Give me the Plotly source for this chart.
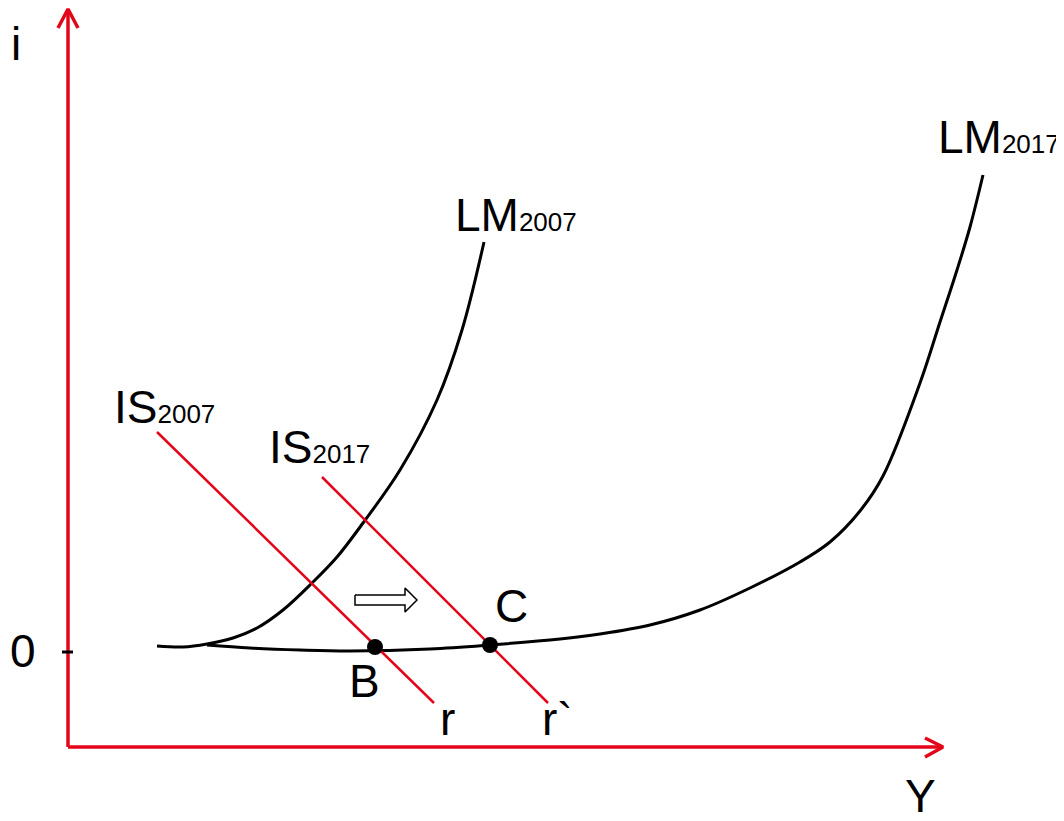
import plotly.graph_objects as go

# ---- data (diagram coordinates, picture units: x right, y down) ----
lm2007_x = [157, 183, 207, 233, 257, 283, 312, 337, 363, 400, 437, 462, 484]
lm2007_y = [646, 647, 644, 638, 628, 610, 583, 557, 523, 470, 400, 330, 242]

lm2017_x = [207, 250, 300, 350, 430, 490, 560, 600, 650, 700, 750, 800, 830, 860, 883, 920, 940, 957, 970, 983]
lm2017_y = [645, 648, 650, 651, 649, 645, 639, 634, 625, 610, 588, 562, 542, 511, 476, 383, 322, 270, 227, 175]

is2007_x = [157, 434]
is2007_y = [432, 703]
is2017_x = [322, 548]
is2017_y = [477, 703]

equil_x = [375, 490]
equil_y = [647, 645]

yaxis_x = [68, 68]
yaxis_y = [747, 9]
yhead_x = [58, 68, 78]
yhead_y = [28, 9, 28]
xaxis_x = [68, 943]
xaxis_y = [747, 747]
xhead_x = [925, 943, 925]
xhead_y = [738, 747, 757]

tick_x = [62, 73]
tick_y = [652, 652]

shift_x = [355, 405, 405, 417, 405, 405, 355, 355]
shift_y = [595, 595, 588, 600, 612, 605, 605, 595]

RED = "#e3061a"
BLACK = "#000000"
FONT = "Liberation Sans, Arial, sans-serif"

# page body has an 8px margin; the figure covers page pixels 8..1064 / 8..821
OFF = 8

fig = go.Figure()

def line(x, y, color, width):
    fig.add_trace(go.Scatter(x=x, y=y, mode="lines", line=dict(color=color, width=width),
                             hoverinfo="skip", showlegend=False))

# axes
line(yaxis_x, yaxis_y, RED, 3.5)
line(xaxis_x, xaxis_y, RED, 3.5)
line(yhead_x, yhead_y, RED, 3.5)
line(xhead_x, xhead_y, RED, 3.5)
line(tick_x, tick_y, BLACK, 3)

# LM curves
fig.add_trace(go.Scatter(x=lm2007_x, y=lm2007_y, mode="lines",
                         line=dict(color=BLACK, width=3, shape="spline", smoothing=1),
                         hoverinfo="skip", showlegend=False))
fig.add_trace(go.Scatter(x=lm2017_x, y=lm2017_y, mode="lines",
                         line=dict(color=BLACK, width=3, shape="spline", smoothing=1),
                         hoverinfo="skip", showlegend=False))

# IS lines
line(is2007_x, is2007_y, RED, 2.5)
line(is2017_x, is2017_y, RED, 2.5)

# shift arrow
fig.add_trace(go.Scatter(x=shift_x, y=shift_y, mode="lines", fill="toself", fillcolor="white",
                         line=dict(color=BLACK, width=1.5), hoverinfo="skip", showlegend=False))

# equilibrium points
fig.add_trace(go.Scatter(x=equil_x, y=equil_y, mode="markers",
                         marker=dict(color=BLACK, size=16), hoverinfo="skip", showlegend=False))

def label(text, x, y, anchor="left", size=46):
    fig.add_annotation(x=x, y=y, xref="x", yref="y", text=text, showarrow=False,
                       xanchor=anchor, yanchor="middle",
                       font=dict(family=FONT, size=size, color=BLACK))

SUB = "<span style='font-size:26px'>{}</span>"
label("i", 16, 44, "center")
label("LM" + SUB.format("2017"), 936, 137)
label("LM" + SUB.format("2007"), 453, 215)
label("IS" + SUB.format("2007"), 112, 407)
label("IS" + SUB.format("2017"), 267, 447)
label("0", 23, 651, "center")
label("B", 364, 681, "center")
label("C", 511, 606, "center")
label("r", 447, 719, "center")
label("r`", 540, 719, "left")
label("Y", 920, 796, "center")

fig.update_layout(
    width=1064 - OFF, height=821 - OFF,
    margin=dict(l=0, r=0, t=0, b=0),
    paper_bgcolor="white", plot_bgcolor="white",
    xaxis=dict(range=[OFF, 1064], visible=False, fixedrange=True),
    yaxis=dict(range=[821, OFF], visible=False, fixedrange=True),
    showlegend=False,
)

fig.write_html("out.html")
